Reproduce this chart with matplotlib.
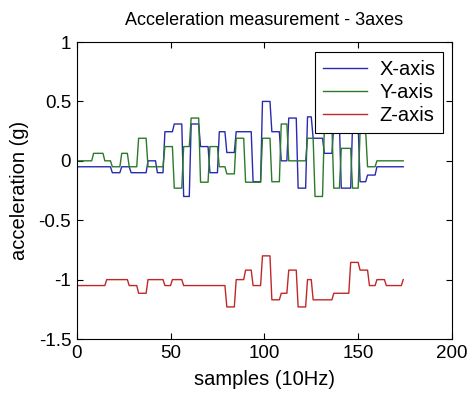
import numpy as np
import matplotlib
matplotlib.use("Agg")
import matplotlib.pyplot as plt

plt.rcParams['font.family'] = ['Liberation Sans', 'DejaVu Sans']

n_samples = 175

# step data: sample index where each level starts, and the level (g)
x_starts = [0, 19, 24, 29, 38, 43, 47, 52, 57, 61, 66, 71, 76, 80, 85, 94, 99,
            104, 109, 113, 118, 123, 126, 132, 137, 141, 147, 151, 155, 160]
x_levels = [-0.05, -0.1, -0.05, -0.1, 0.0, -0.1, 0.245, 0.31, -0.30, 0.31, 0.12,
            -0.1, 0.245, 0.07, 0.245, -0.176, 0.5, 0.245, 0.0, 0.36, -0.23, 0.37,
            0.19, 0.063, 0.3, -0.23, 0.3, -0.176, -0.12, -0.05]

y_starts = [0, 9, 15, 19, 24, 28, 33, 38, 47, 52, 57, 61, 66, 71, 76, 80, 85, 90,
            99, 104, 109, 113, 123, 127, 132, 137, 141, 147, 151, 155, 160]
y_levels = [0.0, 0.063, 0.0, -0.05, 0.063, -0.05, 0.19, -0.05, 0.12, -0.23, 0.12,
            0.36, -0.18, 0.12, -0.05, -0.11, 0.19, -0.18, 0.19, -0.176, 0.31, 0.0,
            0.19, -0.30, 0.3, -0.23, 0.105, -0.23, 0.245, -0.05, 0.0]

z_starts = [0, 16, 28, 33, 38, 47, 51, 57, 80, 85, 90, 94, 99, 104, 109, 113, 118,
            123, 126, 137, 146, 151, 156, 160, 165, 174]
z_levels = [-1.05, -1.0, -1.05, -1.115, -1.0, -1.05, -1.0, -1.05, -1.23, -1.0, -0.92,
            -1.05, -0.80, -1.17, -1.115, -0.92, -1.23, -1.0, -1.17, -1.115, -0.855,
            -0.92, -1.05, -1.0, -1.05, -1.0]


def expand(starts, levels):
    counts = np.diff(starts + [n_samples])
    return np.repeat(levels, counts)


samples = np.arange(n_samples)

fig = plt.figure(figsize=(4.74, 3.98), dpi=100)
ax = fig.add_axes([0.1618, 0.1482, 0.7918, 0.7462])

ax.plot(samples, expand(x_starts, x_levels), color='#2a2ab0', lw=1.0, label='X-axis')
ax.plot(samples, expand(y_starts, y_levels), color='#2a7a2a', lw=1.0, label='Y-axis')
ax.plot(samples, expand(z_starts, z_levels), color='#c02828', lw=1.0, label='Z-axis')

ax.set_xlim(0, 200)
ax.set_ylim(-1.5, 1)
ax.set_xticks([0, 50, 100, 150, 200])
ax.set_yticks([-1.5, -1, -0.5, 0, 0.5, 1])
ax.set_yticklabels(['-1.5', '-1', '-0.5', '0', '0.5', '1'])
ax.tick_params(direction='in', length=4, labelsize=13.5, top=True, right=True, pad=4)
for s in ax.spines.values():
    s.set_linewidth(0.8)

ax.set_title('Acceleration measurement - 3axes', fontsize=13, pad=12)
ax.set_xlabel('samples (10Hz)', fontsize=14.5, labelpad=6)
ax.set_ylabel('acceleration (g)', fontsize=14.5, labelpad=7)

leg = ax.legend(loc='upper right', bbox_to_anchor=(0.977, 0.967), borderaxespad=0,
                fancybox=False, framealpha=1, edgecolor='black', fontsize=14.5,
                handlelength=2.2, handletextpad=0.6, labelspacing=0.2, borderpad=0.4)
leg.get_frame().set_linewidth(0.8)

fig.savefig('out.png', dpi=100)
